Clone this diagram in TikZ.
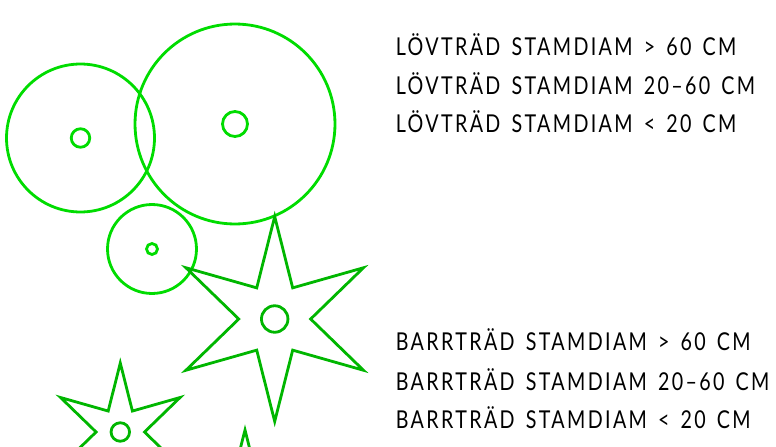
\documentclass[tikz,border=0pt]{standalone}
\usepackage{fontspec}
\setmainfont{Lato}[FakeStretch=0.8,LetterSpace=9.6,WordSpace=1.5]
\usepackage{tikz}
\usetikzlibrary{shapes.geometric}

\definecolor{lovgreen}{RGB}{0,220,0}
\definecolor{barrgreen}{RGB}{0,182,0}

\begin{document}
\begin{tikzpicture}[
    x=0.02cm, y=-0.02cm,
    lov/.style={circle, draw=lovgreen, line width=0.056cm, inner sep=0pt},
    barr/.style={star, star points=6, star point ratio=2.85, draw=barrgreen, line width=0.056cm, inner sep=0pt},
    stam/.style={circle, draw=barrgreen, line width=0.056cm, inner sep=0pt},
    legend/.style={anchor=base west, inner sep=0pt, font=\fontsize{14}{16}\selectfont},
]
\clip (0,0) rectangle (776,446);

% lovtrad
\node[lov, minimum size=4cm] (lov_stor) at (235,124) {};
\node[lov, minimum size=0.5cm] (lov_stor_c) at (235,124) {};
\node[lov, minimum size=2.96cm] (lov_mellan) at (80.5,138) {};
\node[lov, minimum size=0.37cm] (lov_mellan_c) at (80.5,138) {};
\node[lov, minimum size=1.78cm] (lov_liten) at (152,249) {};
\node[lov, minimum size=0.22cm] (lov_liten_c) at (152,249) {};

% barrtrad
\node[barr, minimum size=4.1cm] (barr_stor) at (274.7,319) {};
\node[stam, minimum size=0.53cm] (barr_stor_c) at (274.7,319) {};
\node[barr, minimum size=2.76cm] (barr_mellan) at (120.3,432) {};
\node[stam, minimum size=0.37cm] (barr_mellan_c) at (120.3,432) {};
\node[barr, minimum size=1.8cm] (barr_liten) at (245,475) {};

% text
\node[legend] (t1) at (395.5,55) {LÖVTRÄD STAMDIAM > 60 CM};
\node[legend] (t2) at (395.5,94) {LÖVTRÄD STAMDIAM 20–60 CM};
\node[legend] (t3) at (395.5,132) {LÖVTRÄD STAMDIAM < 20 CM};
\node[legend] (t4) at (395.5,350) {BARRTRÄD STAMDIAM > 60 CM};
\node[legend] (t5) at (395.5,390) {BARRTRÄD STAMDIAM 20–60 CM};
\node[legend] (t6) at (395.5,428) {BARRTRÄD STAMDIAM < 20 CM};
\end{tikzpicture}
\end{document}
